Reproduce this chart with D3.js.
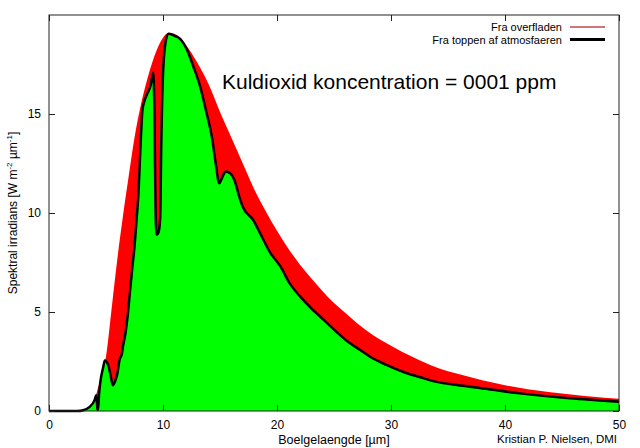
<!DOCTYPE html>
<html>
<head>
<meta charset="utf-8">
<script src="https://cdn.jsdelivr.net/npm/d3@7.9.0/dist/d3.min.js"></script>
<style>
  body { margin: 0; background: #fff; }
  svg { display: block; font-family: "Liberation Sans", Arial, sans-serif; }
</style>
</head>
<body>
<svg id="chart" width="640" height="448"></svg>
<script>
// emission from the surface (red area), wavelength in um
const surfaceWl = [2.5, 3, 3.5, 4, 4.5, 5, 5.5, 6, 6.5, 7, 7.5, 8, 8.5, 9, 9.5, 10, 10.5, 11, 11.5, 12,
  13, 14, 15, 16, 17, 18, 19, 20, 21, 22, 23, 24, 25, 26, 27, 28, 30, 32, 34, 36, 38, 40, 42, 44, 46, 48, 50];
const surfaceVal = [0, 0.05, 0.2, 0.6, 1.6, 2.75, 5.2, 7.7, 9.9, 11.9, 13.8, 15.3, 16.5, 17.5, 18.3, 18.85, 19.1, 19.05, 18.85, 18.5,
  17.6, 16.5, 15.1, 13.8, 12.5, 11.2, 10.1, 9.1, 8.2, 7.4, 6.7, 6.05, 5.45, 4.95, 4.45, 4.0, 3.3, 2.7, 2.2, 1.85, 1.55, 1.3, 1.1, 0.95, 0.82, 0.71, 0.62];

// what reaches the top of the atmosphere (green area, black line)
const toaWl = [0, 2.5, 3, 3.5, 4, 4.15, 4.25, 4.3, 4.4, 4.5, 4.75, 4.9, 5.2, 5.4, 5.6, 5.8, 6.0, 6.2, 6.4, 6.5, 6.7, 6.9,
  7.1, 7.3, 7.5, 7.7, 7.85, 8.0, 8.2, 8.4, 8.6, 8.9, 9.15, 9.25, 9.35, 9.45, 9.6, 9.75, 9.85, 10.0, 10.25, 10.5,
  11.0, 11.5, 12.1, 12.66, 13.25, 13.8, 14.3, 14.6, 14.94, 15.2, 15.5, 15.9, 16.3, 16.7, 17.0, 17.9, 18.5, 19.4,
  20.3, 21.1, 22.0, 22.9, 24.1, 25.2, 26.1, 27.3, 28.2, 29.6, 31.1, 32.5, 34, 35.8, 37.8, 41.3, 45.7, 50];
const toaVal = [0, 0, 0.04, 0.18, 0.55, 0.8, 0.1, 0.05, 0.9, 1.45, 2.2, 2.55, 2.3, 1.8, 1.3, 1.5, 1.9, 2.6, 2.9, 3.3, 3.9, 4.8,
  6.0, 7.2, 8.3, 9.8, 11.0, 13.0, 15.2, 15.7, 16.0, 16.4, 17.1, 15.0, 10.0, 8.9, 9.0, 9.7, 13.5, 17.0, 18.7, 19.05,
  18.95, 18.8, 18.25, 17.4, 16.4, 15.1, 13.8, 12.6, 11.5, 11.8, 12.1, 12.0, 11.6, 10.8, 10.3, 9.65, 9.0, 8.0,
  7.3, 6.46, 5.8, 5.25, 4.6, 4.0, 3.55, 3.08, 2.73, 2.33, 1.97, 1.72, 1.47, 1.31, 1.16, 0.89, 0.64, 0.47];

const xTicks = [0, 10, 20, 30, 40, 50];
const yTicks = [0, 5, 10, 15];

const surface = surfaceWl.map((w, i) => ({ x: w, y: surfaceVal[i] }));
const toa = toaWl.map((w, i) => ({ x: w, y: toaVal[i] }));

const svg = d3.select('#chart');
const margin = { left: 49, right: 21, top: 15, bottom: 37 };
const width = 640 - margin.left - margin.right;
const height = 448 - margin.top - margin.bottom;

const x = d3.scaleLinear().domain([0, 50]).range([margin.left, margin.left + width]);
const y = d3.scaleLinear().domain([0, 20]).range([margin.top + height, margin.top]);

svg.append('rect').attr('width', 640).attr('height', 448).attr('fill', '#fff');

const area = d3.area().x(d => x(d.x)).y0(y(0)).y1(d => y(d.y)).curve(d3.curveMonotoneX);
const line = d3.line().x(d => x(d.x)).y(d => y(d.y)).curve(d3.curveMonotoneX);

svg.append('path').datum(surface).attr('d', area).attr('fill', '#ff0000');
svg.append('path').datum(toa).attr('d', area).attr('fill', '#00ff00');
svg.append('path').datum(toa).attr('d', line)
  .attr('fill', 'none').attr('stroke', '#000').attr('stroke-width', 2.5).attr('stroke-linejoin', 'round');

// axes, gnuplot style: ticks pointing inwards on all four sides
const fontSize = '12px';
const axBottom = svg.append('g').attr('transform', `translate(0,${y(0)})`)
  .call(d3.axisBottom(x).tickValues(xTicks).tickSizeInner(-6).tickSizeOuter(0).tickPadding(9));
const axTop = svg.append('g').attr('transform', `translate(0,${y(20)})`)
  .call(d3.axisTop(x).tickValues(xTicks).tickSizeInner(-6).tickSizeOuter(0).tickFormat(''));
const axLeft = svg.append('g').attr('transform', `translate(${x(0)},0)`)
  .call(d3.axisLeft(y).tickValues(yTicks).tickSizeInner(-6).tickSizeOuter(0).tickPadding(8));
const axRight = svg.append('g').attr('transform', `translate(${x(50)},0)`)
  .call(d3.axisRight(y).tickValues(yTicks).tickSizeInner(-6).tickSizeOuter(0).tickFormat(''));

[axBottom, axTop, axLeft, axRight].forEach(g => {
  g.select('.domain').remove();
  g.selectAll('line').attr('stroke', '#222');
  g.selectAll('text').attr('font-size', fontSize).attr('font-family', null).attr('fill', '#000');
});

svg.append('rect')
  .attr('x', x(0)).attr('y', y(20)).attr('width', width).attr('height', height)
  .attr('fill', 'none').attr('stroke', '#222').attr('stroke-width', 1);

// title inside the plot
svg.append('text').attr('x', 222).attr('y', 89).attr('font-size', '21px')
  .text('Kuldioxid koncentration = 0001 ppm');

// legend
const legend = [
  { label: 'Fra overfladen', color: '#c04848', w: 1.5 },
  { label: 'Fra toppen af atmosfaeren', color: '#000', w: 3 }
];
legend.forEach((d, i) => {
  const ly = 31 + i * 12.5;
  svg.append('text').attr('x', 562).attr('y', ly).attr('text-anchor', 'end')
    .attr('font-size', '11px').text(d.label);
  svg.append('line').attr('x1', 570).attr('x2', 605).attr('y1', ly - 4).attr('y2', ly - 4)
    .attr('stroke', d.color).attr('stroke-width', d.w);
});

// axis labels
const yl = svg.append('text').attr('transform', 'translate(17,213) rotate(-90)')
  .attr('text-anchor', 'middle').attr('font-size', '12px');
yl.append('tspan').text('Spektral irradians [W m');
yl.append('tspan').attr('dy', -5).attr('font-size', '8px').text('-2');
yl.append('tspan').attr('dy', 5).text(' µm');
yl.append('tspan').attr('dy', -5).attr('font-size', '8px').text('-1');
yl.append('tspan').attr('dy', 5).text(']');

svg.append('text').attr('x', 334).attr('y', 444).attr('text-anchor', 'middle')
  .attr('font-size', '12.5px').text('Boelgelaengde [µm]');

svg.append('text').attr('x', 617).attr('y', 443).attr('text-anchor', 'end')
  .attr('font-size', '11.5px').text('Kristian P. Nielsen, DMI');
</script>
</body>
</html>
